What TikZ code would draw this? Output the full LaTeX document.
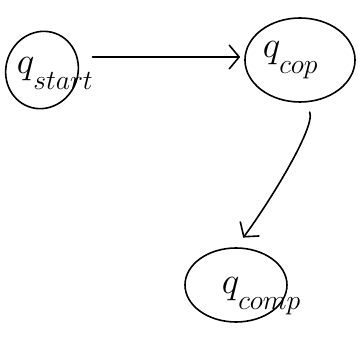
\documentclass[tikz,border=0pt]{standalone}
\usepackage{graphicx}
\usetikzlibrary{shapes.geometric,arrows.meta}
\newcommand{\qlbl}[1]{\scalebox{1.5}{\Huge$q$}\kern-1pt\raisebox{-16pt}{\scalebox{1.6}{\LARGE$#1$}}}
\begin{document}
\begin{tikzpicture}[x=1pt,y=-1pt, line width=1.6pt,
  state/.style={draw, ellipse, inner sep=0pt},
  arr/.style={-{Straight Barb[length=10pt,width=24pt]}, line cap=round},
  lab/.style={inner sep=0pt, anchor=base west}]
\useasboundingbox (0,0) rectangle (360,347);
\node[state, minimum width=72pt, minimum height=78pt, rotate=-20] (start) at (42,70) {};
\node[state, minimum width=110pt, minimum height=84pt] (cop) at (300,60) {};
\node[state, minimum width=102pt, minimum height=74pt] (comp) at (236,285) {};
\node[lab] (lstart) at (16,74) {\qlbl{start}};
\node[lab] (lcop) at (262,58) {\qlbl{cop}};
\node[lab] (lcomp) at (221,294) {\qlbl{comp}};
\draw[arr, shorten <=16pt, shorten >=4pt] (start.east |- 0,57) -- (cop.west |- 0,57);
\draw[arr, shorten <=10pt, shorten >=12pt] ([xshift=6pt]cop.south) .. controls +(10,25) and +(30,-40) .. (comp.north);
\end{tikzpicture}
\end{document}
